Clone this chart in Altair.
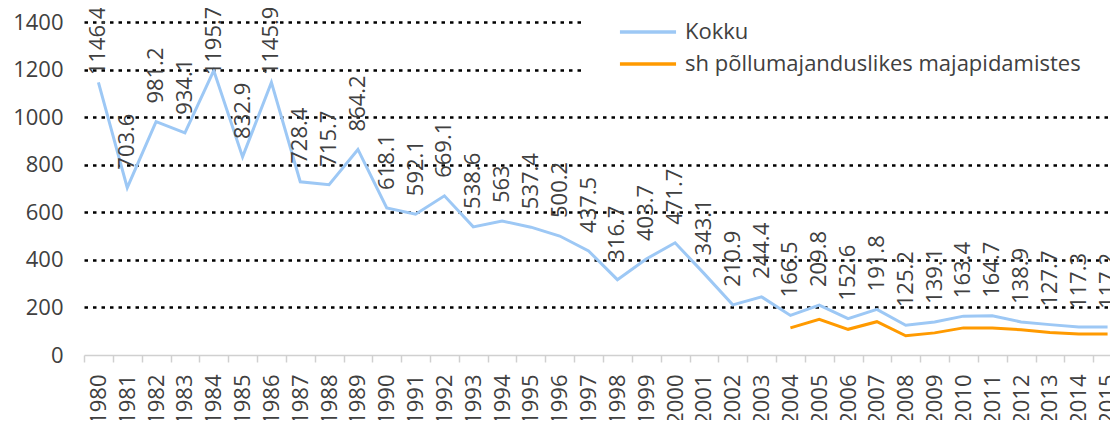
import altair as alt
import pandas as pd

years = [str(y) for y in range(1980, 2016)]
kokku = [1146.4, 703.6, 981.2, 934.1, 1195.7, 832.9, 1145.9, 728.4, 715.7, 864.2,
         618.1, 592.1, 669.1, 538.6, 563, 537.4, 500.2, 437.5, 316.7, 403.7,
         471.7, 343.1, 210.9, 244.4, 166.5, 209.8, 152.6, 191.8, 125.2, 139.1,
         163.4, 164.7, 138.9, 127.7, 117.3, 117.2]
pollu_years = [str(y) for y in range(2004, 2016)]
pollu = [114, 150, 108, 140, 81, 93, 114, 114, 106, 95, 88, 88]

s1 = "Kokku"
s2 = "sh põllumajanduslikes majapidamistes"

rows = [{"year": y, "value": v, "series": s1, "label": f"{v:g}"} for y, v in zip(years, kokku)]
rows += [{"year": y, "value": v, "series": s2, "label": ""} for y, v in zip(pollu_years, pollu)]
df = pd.DataFrame(rows)

FONT = "Open Sans"
TXT = "#404040"

xscale = alt.Scale(type="band", paddingInner=0, paddingOuter=0, range=[0, 1038])

xenc = alt.X("year:O", sort=years, bandPosition=0.5, scale=xscale,
             axis=alt.Axis(title=None, labelAngle=270, labelAlign="right", labelBaseline="middle",
                           labelFont=FONT, labelFontSize=22, labelColor=TXT, labelPadding=12,
                           tickBand="extent", tickSize=7, tickColor="#d0d0d0", domainColor="#d0d0d0",
                           domainWidth=1.5, tickWidth=1.5, grid=False, zindex=1))

yenc = alt.Y("value:Q", scale=alt.Scale(domain=[0, 1400]),
             axis=alt.Axis(title=None, values=[0, 200, 400, 600, 800, 1000, 1200, 1400], format="d",
                           labelFont=FONT, labelFontSize=22, labelColor=TXT, labelPadding=21,
                           ticks=False, tickSize=0, domain=False, grid=True, gridColor="black",
                           gridWidth=2.5, gridDash=[3.5, 5],
                           gridOpacity={"condition": {"test": "datum.value === 0", "value": 0}, "value": 1}))

lines = alt.Chart(df).mark_line(strokeWidth=3).encode(
    x=xenc, y=yenc,
    color=alt.Color("series:N",
                    scale=alt.Scale(domain=[s1, s2], range=["#9DC8F5", "#FF9A00"]),
                    legend=alt.Legend(title="\u00a0\u200b", titleOrient="left", titlePadding=20,
                                      orient="none", legendX=497, legendY=-37,
                                      fillColor="white", padding=34,
                                      symbolType="M-2.55,0H2.55", symbolSize=484,
                                      symbolStrokeWidth=3.3, labelOffset=24, rowPadding=8,
                                      labelFont=FONT, labelFontSize=22, labelColor=TXT,
                                      labelExpr="datum.label + '\u00a0\u00a0\u00a0\u00a0\u00a0\u00a0\u00a0\u00a0\u200b'",
                                      labelLimit=800)),
    detail="series:N",
)

labels = alt.Chart(df).transform_filter(
    alt.datum.series == s1
).transform_calculate(
    anchor="min(datum.value, 1100)"
).mark_text(angle=270, align="left", baseline="middle", dx=18, font=FONT, fontSize=22, color=TXT).encode(
    x=alt.X("year:O", sort=years, bandPosition=0.5, scale=xscale),
    y=alt.Y("anchor:Q"),
    text="label:N",
)

chart = alt.layer(lines, labels).properties(
    width=1026, height=333,
    autosize=alt.AutoSizeParams(type="none"),
    padding={"left": 76, "top": 14, "right": 0, "bottom": 65},
).configure_view(stroke=None)

chart.save("out.html", embed_options={"renderer": "svg", "actions": False})
